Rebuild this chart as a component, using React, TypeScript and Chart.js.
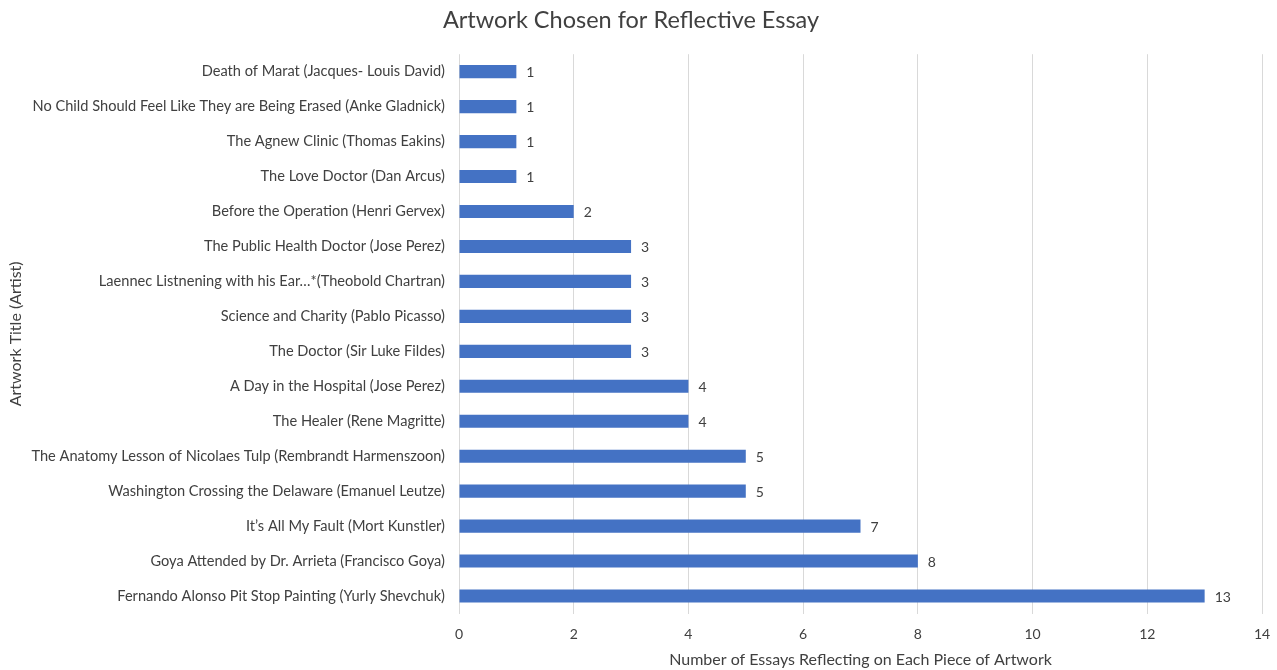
import React, { useEffect, useRef } from "react";
import { Chart, registerables } from "chart.js";

Chart.register(...registerables);

const categories = [
  "Death of Marat (Jacques- Louis David)",
  "No Child Should Feel Like They are Being Erased (Anke Gladnick)",
  "The Agnew Clinic (Thomas Eakins)",
  "The Love Doctor (Dan Arcus)",
  "Before the Operation (Henri Gervex)",
  "The Public Health Doctor (Jose Perez)",
  "Laennec Listnening with his Ear…*(Theobold Chartran)",
  "Science and Charity (Pablo Picasso)",
  "The Doctor (Sir Luke Fildes)",
  "A Day in the Hospital (Jose Perez)",
  "The Healer (Rene Magritte)",
  "The Anatomy Lesson of Nicolaes Tulp (Rembrandt Harmenszoon)",
  "Washington Crossing the Delaware (Emanuel Leutze)",
  "It’s All My Fault (Mort Kunstler)",
  "Goya Attended by Dr. Arrieta (Francisco Goya)",
  "Fernando Alonso Pit Stop Painting (Yurly Shevchuk)",
];
const essayCounts = [1, 1, 1, 1, 2, 3, 3, 3, 3, 4, 4, 5, 5, 7, 8, 13];

const chartTitle = "Artwork Chosen for Reflective Essay";
const xTitle = "Number of Essays Reflecting on Each Piece of Artwork";
const yTitle = "Artwork Title (Artist)";

const FONT = "Lato, 'Open Sans', sans-serif";

const dataLabels = {
  id: "dataLabels",
  afterDatasetsDraw(chart: any) {
    const ctx = chart.ctx;
    const meta = chart.getDatasetMeta(0);
    ctx.save();
    ctx.font = `14px ${FONT}`;
    ctx.fillStyle = "#404040";
    ctx.textAlign = "left";
    ctx.textBaseline = "middle";
    meta.data.forEach((bar: any, i: number) => {
      ctx.fillText(String(essayCounts[i]), bar.x + 10, bar.y + 1);
    });
    ctx.restore();
  },
};

export default function App() {
  const ref = useRef<HTMLCanvasElement | null>(null);
  useEffect(() => {
    if (!ref.current) return;
    const chart = new Chart(ref.current, {
      type: "bar",
      data: {
        labels: categories,
        datasets: [
          {
            data: essayCounts,
            backgroundColor: "#4472C4",
            barPercentage: 0.75,
            categoryPercentage: 0.5,
          },
        ],
      },
      options: {
        indexAxis: "y",
        animation: false,
        responsive: false,
        maintainAspectRatio: false,
        layout: { padding: { left: 0, right: 15, top: 0, bottom: 0 } },
        plugins: {
          legend: { display: false },
          tooltip: { enabled: false },
          title: {
            display: true,
            text: chartTitle,
            color: "#404040",
            font: { family: FONT, size: 23.5, weight: "normal" },
            padding: { top: 6, bottom: 20 },
          },
        },
        scales: {
          x: {
            min: 0,
            max: 14,
            ticks: {
              stepSize: 2,
              color: "#404040",
              font: { family: FONT, size: 14 },
              padding: 13,
            },
            grid: { color: "#d9d9d9", drawTicks: false },
            border: { display: false },
            title: {
              display: true,
              text: xTitle,
              color: "#404040",
              font: { family: FONT, size: 16 },
              padding: { top: 0, bottom: 0.5 },
            },
            afterFit: (s: any) => {
              s.height = 56.5;
              s.paddingLeft = 0;
              s.paddingRight = 0;
            },
          },
          y: {
            ticks: {
              color: "#404040",
              font: { family: FONT, size: 14.6 },
              padding: 14,
              autoSkip: false,
            },
            grid: { display: false, drawTicks: false },
            border: { display: false },
            title: {
              display: true,
              text: yTitle,
              color: "#404040",
              font: { family: FONT, size: 16 },
              padding: { top: 6.4, bottom: 0 },
            },
            afterFit: (s: any) => {
              s.width = 459;
            },
          },
        },
      },
      plugins: [dataLabels],
    });
    return () => chart.destroy();
  }, []);
  return (
    <div style={{ position: "fixed", left: 0, top: 0, width: 1277, height: 670, background: "#fff" }}>
      <canvas ref={ref} width={1277} height={670} />
    </div>
  );
}
